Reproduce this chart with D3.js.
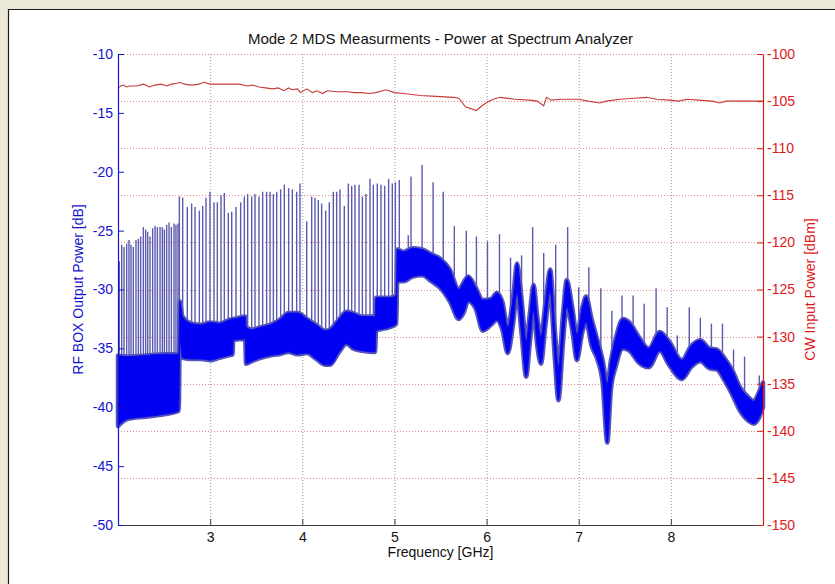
<!DOCTYPE html>
<html>
<head>
<meta charset="utf-8">
<script src="https://cdn.jsdelivr.net/npm/d3@7"></script>
<style>
  html, body { margin: 0; padding: 0; background: #ece9d8; }
  svg { display: block; }
</style>
</head>
<body>
<svg id="chart" width="835" height="584"></svg>
<script>
/* Mode 2 MDS measurements — two y-axes (plotyy style)
   left:  RF BOX output power (blue spectrum)
   right: CW input power (red trace) */

// ── Data ─────────────────────────────────────────────
const xTicks     = [3, 4, 5, 6, 7, 8];
const leftTicks  = [-10, -15, -20, -25, -30, -35, -40, -45, -50];
const rightTicks = [-100, -105, -110, -115, -120, -125, -130, -135, -140, -145, -150];

// dense noise floor of the spectrum: upper / lower edge of the blue band
const bandFreq = [
  2.00, 2.10, 2.30, 2.50, 2.66, 2.67, 2.70, 2.80, 2.90, 3.00,
  3.10, 3.20, 3.245, 3.25, 3.38, 3.39, 3.45, 3.55, 3.65, 3.75,
  3.85, 3.95, 4.05, 4.15, 4.25, 4.30, 4.40, 4.48, 4.55, 4.65,
  4.79, 4.80, 4.95, 5.02, 5.03, 5.10, 5.20, 5.30, 5.40, 5.50,
  5.60, 5.70, 5.75, 5.80, 5.88, 5.96, 6.05, 6.11, 6.17, 6.23,
  6.29, 6.33, 6.38, 6.43, 6.47, 6.51, 6.55, 6.59, 6.64, 6.69,
  6.74, 6.78, 6.83, 6.87, 6.93, 6.98, 7.04, 7.08, 7.14, 7.20,
  7.26, 7.31, 7.35, 7.40, 7.48, 7.55, 7.65, 7.76, 7.88, 7.98,
  8.12, 8.22, 8.32, 8.42, 8.50, 8.58, 8.67, 8.75, 8.85, 8.90,
  8.95, 9.00
];
const bandHigh = [
  -35.6, -35.7, -35.6, -35.5, -35.5, -31.0, -32.3, -32.9, -33.0, -32.8,
  -32.9, -32.6, -32.5, -32.5, -32.3, -33.2, -33.4, -33.2, -33.0, -32.6,
  -32.0, -32.0, -32.5, -33.0, -33.5, -33.4, -32.5, -31.9, -32.0, -32.3,
  -32.3, -30.7, -30.7, -30.5, -26.6, -26.8, -26.5, -26.6, -27.0, -27.4,
  -28.3, -30.0, -29.4, -28.9, -29.8, -30.9, -30.8, -30.3, -31.0, -33.2,
  -30.5, -27.8, -30.8, -34.4, -32.0, -29.6, -32.3, -34.0, -31.0, -28.3,
  -33.3, -36.6, -32.0, -29.2, -31.5, -33.8, -31.5, -30.6, -32.5, -34.2,
  -36.0, -38.0, -36.0, -34.2, -32.5, -32.8, -34.0, -35.0, -33.6, -34.4,
  -36.0, -34.8, -34.3, -35.0, -35.1, -35.8, -36.9, -38.3, -39.2, -39.5,
  -38.8, -37.9
];
const bandLow = [
  -41.6, -41.0, -40.8, -40.6, -40.3, -34.2, -35.8, -35.9, -35.9, -36.0,
  -35.8, -35.6, -35.5, -34.3, -34.2, -36.3, -36.1, -35.8, -35.6, -35.5,
  -35.3, -35.5, -35.4, -35.9, -36.4, -36.4, -35.3, -34.6, -35.0, -35.2,
  -35.3, -33.5, -33.2, -32.9, -29.3, -29.3, -28.9, -28.8, -29.3, -29.9,
  -31.0, -32.5, -32.0, -31.0, -31.6, -33.5, -33.0, -32.6, -33.4, -35.4,
  -32.8, -30.3, -33.8, -37.4, -34.5, -31.8, -34.8, -36.3, -33.0, -30.1,
  -35.8, -39.4, -34.5, -31.5, -33.5, -36.0, -33.6, -32.8, -34.8, -35.9,
  -38.0, -43.0, -38.5, -36.6, -35.0, -35.2, -36.2, -36.6, -35.2, -36.4,
  -37.6, -36.6, -36.1, -36.7, -36.8, -37.7, -39.0, -40.3, -41.2, -41.4,
  -41.0, -40.0
];

// narrow carriers sticking out of the noise floor
const spikeFreq = [
  // 2.0 – 2.66 GHz comb
  2.014, 2.040, 2.065, 2.094, 2.119, 2.141, 2.166, 2.195, 2.221, 2.246,
  2.275, 2.300, 2.322, 2.347, 2.376, 2.402, 2.427, 2.456, 2.481, 2.503,
  2.528, 2.554, 2.579, 2.608, 2.629, 2.651,
  // 2.67 – 5.05 GHz comb
  2.666, 2.702, 2.752, 2.799, 2.836, 2.883, 2.919, 2.955, 2.998, 3.042,
  3.078, 3.118, 3.154, 3.197, 3.234, 3.281, 3.331, 3.371, 3.407, 3.451,
  3.487, 3.530, 3.570, 3.613, 3.650, 3.686, 3.722, 3.765, 3.805, 3.852,
  3.892, 3.939, 3.975, 4.048, 4.102, 4.138, 4.174, 4.210, 4.254, 4.293,
  4.337, 4.373, 4.409, 4.456, 4.500, 4.536, 4.572, 4.616, 4.652, 4.691,
  4.735, 4.771, 4.814, 4.854, 4.894, 4.937, 4.977, 5.010, 5.053,
  // above 5 GHz
  5.15, 5.18, 5.30, 5.42, 5.53, 5.65, 5.78, 5.89, 6.01, 6.14,
  6.26, 6.38, 6.50, 6.62, 6.75, 6.88, 7.00, 7.11, 7.24, 7.36,
  7.47, 7.59, 7.71, 7.84, 7.96, 8.07, 8.20, 8.32, 8.44, 8.56,
  8.68, 8.80, 8.96
];
const spikeTop = [
  -27.6, -26.2, -26.4, -26.1, -25.8, -26.2, -26.4, -25.8, -25.7, -25.5,
  -24.7, -24.9, -25.1, -25.5, -24.8, -24.6, -24.7, -24.7, -24.7, -24.9,
  -24.5, -24.3, -24.7, -24.4, -24.5, -24.4,
  -22.1, -22.2, -23.0, -22.7, -23.0, -23.3, -22.9, -22.2, -21.7, -22.6,
  -22.6, -22.0, -21.8, -23.5, -23.4, -23.0, -22.6, -22.1, -21.9, -22.1,
  -21.9, -22.1, -21.7, -21.7, -21.7, -21.9, -21.7, -21.5, -21.1, -21.4,
  -21.5, -21.7, -21.0, -24.2, -22.1, -22.2, -22.4, -22.7, -23.3, -22.6,
  -21.7, -21.7, -21.5, -22.9, -21.0, -21.2, -21.1, -21.1, -22.1, -21.9,
  -20.6, -21.1, -21.0, -21.1, -21.2, -20.6, -21.0, -20.9, -20.7,
  -25.4, -20.4, -19.4, -20.9, -21.7, -24.6, -25.0, -25.5, -25.9, -25.3,
  -27.3, -27.1, -24.7, -26.9, -26.2, -24.7, -29.8, -28.1, -29.9, -31.8,
  -30.5, -30.5, -31.2, -29.9, -31.5, -33.9, -31.5, -32.4, -32.9, -32.9,
  -35.1, -35.7, -37.3
];

// CW input power (right axis, dBm)
const cwFreq = [
  2.00, 2.03, 2.06, 2.09, 2.13, 2.20, 2.28, 2.34, 2.40, 2.47,
  2.53, 2.58, 2.64, 2.67, 2.72, 2.80, 2.88, 2.93, 3.00, 3.10,
  3.20, 3.32, 3.40, 3.46, 3.53, 3.60, 3.68, 3.74, 3.80, 3.85,
  3.89, 3.95, 3.98, 4.05, 4.11, 4.16, 4.22, 4.27, 4.38, 4.49,
  4.57, 4.65, 4.72, 4.80, 4.87, 4.91, 5.00, 5.10, 5.28, 5.45,
  5.64, 5.70, 5.77, 5.89, 5.95, 6.01, 6.07, 6.15, 6.30, 6.47,
  6.55, 6.62, 6.65, 6.70, 6.80, 6.91, 7.00, 7.10, 7.23, 7.30,
  7.45, 7.60, 7.74, 7.85, 7.99, 8.08, 8.18, 8.30, 8.45, 8.53,
  8.60, 8.75, 9.00
];
const cwPower = [
  -103.6, -103.4, -103.3, -103.5, -103.4, -103.4, -103.2, -103.5, -103.3, -103.2,
  -103.4, -103.2, -103.1, -103.0, -103.2, -103.3, -103.2, -103.0, -103.2, -103.2,
  -103.2, -103.2, -103.4, -103.3, -103.5, -103.6, -103.7, -103.6, -103.9, -103.6,
  -103.8, -103.7, -104.1, -103.7, -104.1, -103.9, -104.2, -103.9, -104.0, -104.0,
  -104.1, -104.1, -104.2, -104.1, -103.9, -103.8, -104.1, -104.2, -104.4, -104.5,
  -104.6, -104.7, -105.6, -106.0, -105.5, -105.1, -104.8, -104.6, -104.8, -104.9,
  -105.0, -105.5, -104.6, -104.9, -104.8, -104.8, -104.8, -105.0, -105.2, -105.0,
  -104.8, -104.7, -104.6, -104.8, -104.9, -105.0, -104.8, -104.9, -105.0, -105.2,
  -105.0, -105.0, -105.0
];

// ── Layout ───────────────────────────────────────────
const margin = { top: 54, left: 118, right: 72, bottom: 59 };
const W = 835, H = 584;
const iW = W - margin.left - margin.right;   // 645
const iH = H - margin.top - margin.bottom;   // 471

const BLUE = '#1414d0';
const RED  = '#dd1a1a';
const FONT = '"Liberation Sans", Arial, Helvetica, sans-serif';

const svg = d3.select('#chart');

// window frame: beige background, white figure panel
svg.append('rect')
  .attr('x', 0).attr('y', 0).attr('width', W).attr('height', H)
  .attr('fill', '#ece9d8');
svg.append('rect')
  .attr('x', 8).attr('y', 9).attr('width', W - 8).attr('height', H - 9)
  .attr('fill', '#ffffff');
svg.append('path')
  .attr('d', `M8.5,${H}V9.5H${W}`)
  .attr('fill', 'none').attr('stroke', '#1a1a1a').attr('stroke-width', 1.2);

const g = svg.append('g')
  .attr('transform', `translate(${margin.left},${margin.top})`);

// ── Scales ────────────────────────────────────────────
const x  = d3.scaleLinear().domain([2, 9]).range([0, iW]);
const yL = d3.scaleLinear().domain([-50, -10]).range([iH, 0]);
const yR = d3.scaleLinear().domain([-150, -100]).range([iH, 0]);

function interp(f, xs, ys) {
  const i = d3.bisectRight(xs, f);
  if (i <= 0) return ys[0];
  if (i >= xs.length) return ys[ys.length - 1];
  const t = (f - xs[i - 1]) / (xs[i] - xs[i - 1]);
  return ys[i - 1] + t * (ys[i] - ys[i - 1]);
}

// ── Grid lines ────────────────────────────────────────
g.append('g')
  .selectAll('line')
  .data(xTicks)
  .join('line')
    .attr('x1', d => x(d) + 0.5).attr('x2', d => x(d) + 0.5)
    .attr('y1', 0).attr('y2', iH)
    .attr('stroke', '#9a9a9a')
    .attr('stroke-width', 1)
    .attr('stroke-dasharray', '1 2');

g.append('g')
  .selectAll('line')
  .data(rightTicks)
  .join('line')
    .attr('x1', 0).attr('x2', iW)
    .attr('y1', d => Math.round(yR(d)) + 0.5).attr('y2', d => Math.round(yR(d)) + 0.5)
    .attr('stroke', '#e38a8a')
    .attr('stroke-width', 1)
    .attr('stroke-dasharray', '1 2');

// ── Spectrum (left axis) ─────────────────────────────
const plot = g.append('g');

plot.append('g')
  .selectAll('line')
  .data(spikeFreq.map((f, i) => ({ f, top: spikeTop[i] })))
  .join('line')
    .attr('x1', d => x(d.f)).attr('x2', d => x(d.f))
    .attr('y1', d => yL((interp(d.f, bandFreq, bandHigh) + interp(d.f, bandFreq, bandLow)) / 2))
    .attr('y2', d => yL(d.top))
    .attr('stroke', '#5a5aae')
    .attr('stroke-width', 1.4);

const band = bandFreq.map((f, i) => ({ f, hi: bandHigh[i], lo: bandLow[i] }));
const bandArea = d3.area()
  .x(d => x(d.f)).y0(d => yL(d.lo)).y1(d => yL(d.hi))
  .curve(d3.curveMonotoneX);

// noisy fringe around the floor, then the solid floor
plot.append('path')
  .datum(band)
  .attr('d', bandArea)
  .attr('fill', '#4a4ac4')
  .attr('stroke', '#5656bc')
  .attr('stroke-width', 4.5)
  .attr('stroke-linejoin', 'round');
plot.append('path')
  .datum(band)
  .attr('d', bandArea)
  .attr('fill', '#0000f2')
  .attr('stroke', '#0a0ae8')
  .attr('stroke-width', 1);

// ── CW trace (right axis) ────────────────────────────
g.append('path')
  .datum(cwFreq.map((f, i) => ({ f, v: cwPower[i] })))
  .attr('d', d3.line().x(d => x(d.f)).y(d => yR(d.v)))
  .attr('fill', 'none')
  .attr('stroke', '#c83a3a')
  .attr('stroke-width', 1.1);

// ── Axes ─────────────────────────────────────────────
const axisStyle = (sel, color) => sel
  .call(ax => ax.select('.domain').attr('stroke', color).attr('stroke-width', 1.2))
  .call(ax => ax.selectAll('.tick line').attr('stroke', color))
  .call(ax => ax.selectAll('text')
    .attr('fill', color).attr('font-size', 14).attr('font-family', FONT));

const plain = d => String(d);   // MATLAB uses an ASCII hyphen for minus

g.append('g')
  .attr('transform', `translate(0,${iH})`)
  .call(d3.axisBottom(x).tickValues(xTicks).tickSize(-6).tickSizeOuter(0).tickPadding(7)
    .tickFormat(plain))
  .call(sel => axisStyle(sel, '#404040'))
  .call(ax => ax.selectAll('text').attr('fill', '#111'));

g.append('g')
  .call(d3.axisLeft(yL).tickValues(leftTicks).tickSize(-6).tickSizeOuter(0).tickPadding(5)
    .tickFormat(plain))
  .call(sel => axisStyle(sel, BLUE));

g.append('g')
  .attr('transform', `translate(${iW},0)`)
  .call(d3.axisRight(yR).tickValues(rightTicks).tickSize(-6).tickSizeOuter(0).tickPadding(4)
    .tickFormat(plain))
  .call(sel => axisStyle(sel, RED));

// ── Labels ───────────────────────────────────────────
svg.append('text')
  .attr('x', margin.left + iW / 2).attr('y', 44)
  .attr('text-anchor', 'middle')
  .attr('fill', '#111').attr('font-size', 15).attr('font-family', FONT)
  .text('Mode 2 MDS Measurments - Power at Spectrum Analyzer');

svg.append('text')
  .attr('x', margin.left + iW / 2).attr('y', 557)
  .attr('text-anchor', 'middle')
  .attr('fill', '#111').attr('font-size', 14).attr('font-family', FONT)
  .text('Frequency [GHz]');

svg.append('text')
  .attr('transform', `translate(83,${margin.top + iH / 2}) rotate(-90)`)
  .attr('text-anchor', 'middle')
  .attr('fill', BLUE).attr('font-size', 14).attr('font-family', FONT)
  .text('RF BOX Output Power [dB]');

svg.append('text')
  .attr('transform', `translate(815,${margin.top + iH / 2}) rotate(-90)`)
  .attr('text-anchor', 'middle')
  .attr('fill', RED).attr('font-size', 14).attr('font-family', FONT)
  .text('CW Input Power [dBm]');
</script>
</body>
</html>
